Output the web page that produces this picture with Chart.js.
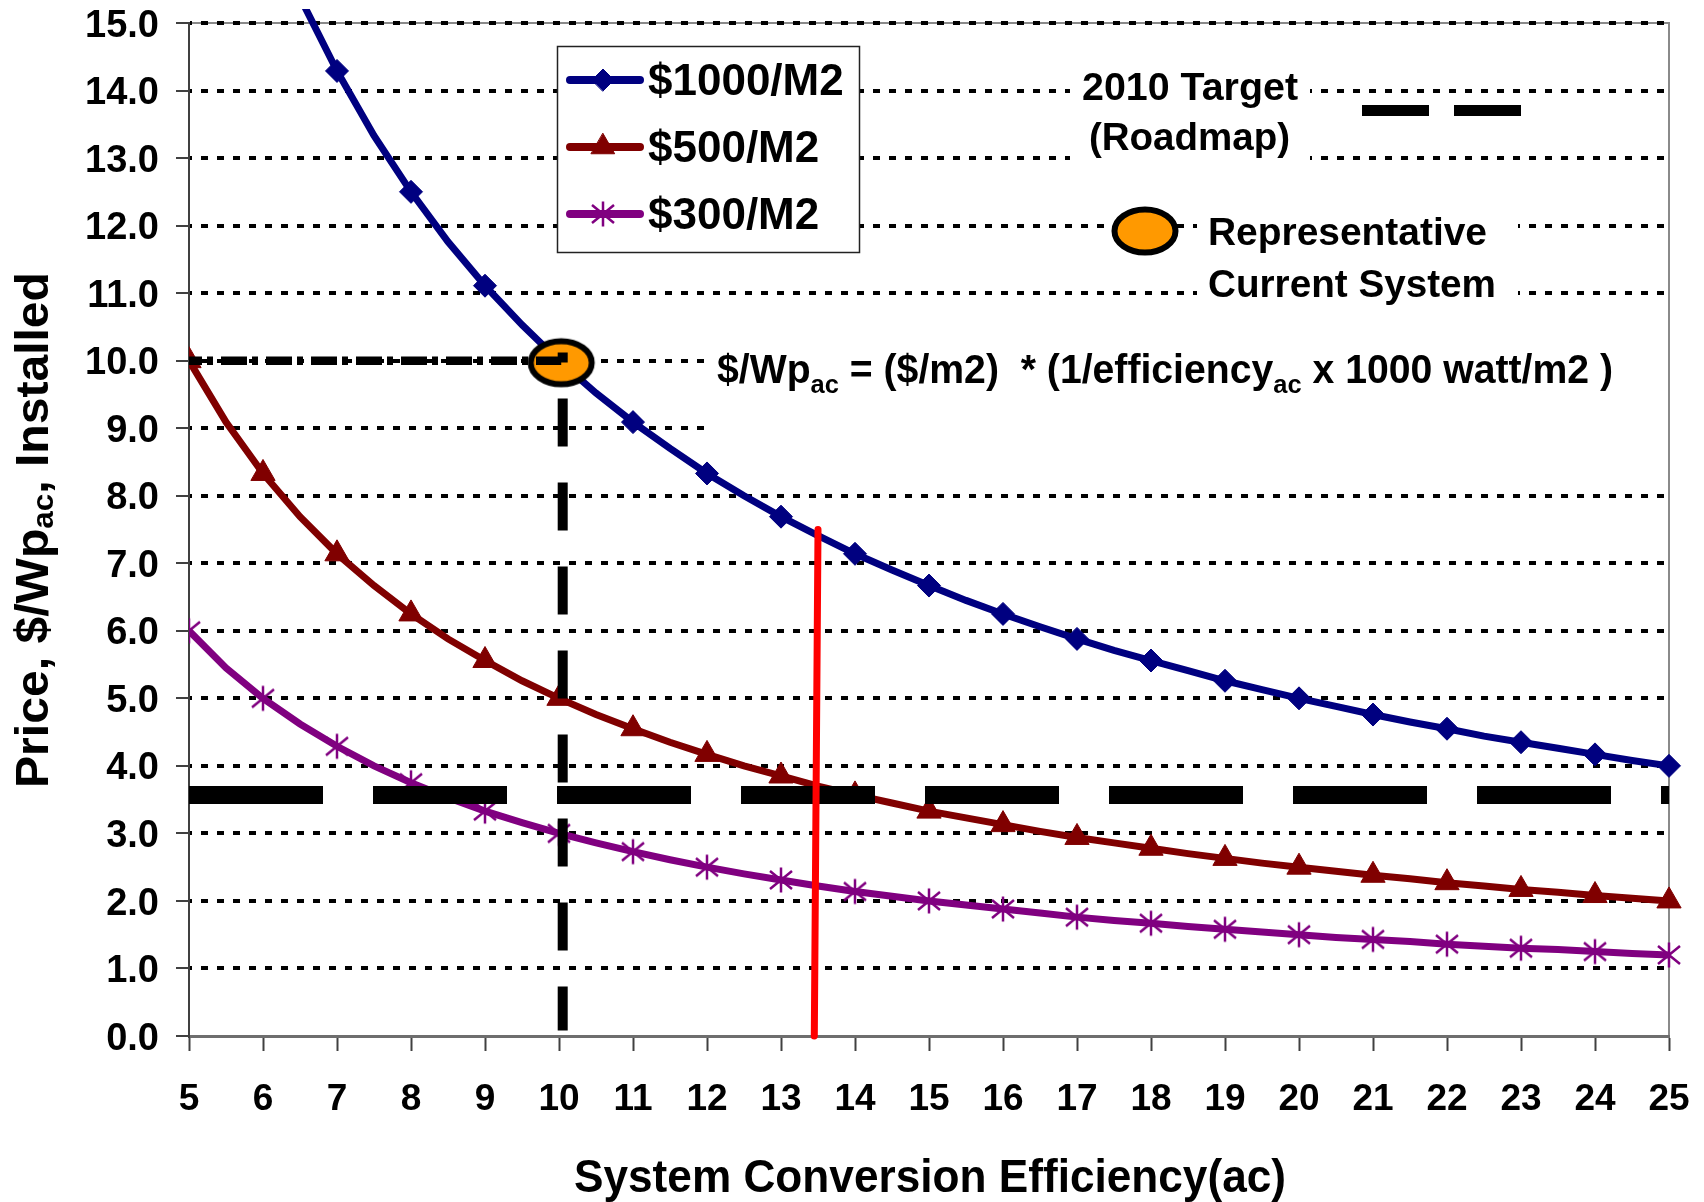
<!DOCTYPE html>
<html><head><meta charset="utf-8">
<script src="https://cdn.jsdelivr.net/npm/chart.js@4.4.1/dist/chart.umd.min.js"></script>
<style>html,body{margin:0;padding:0;background:#fff;}#wrap{width:1704px;height:1202px;}</style>
</head><body><div id="wrap"><canvas id="c" width="1704" height="1202"></canvas></div>
<script>
// ---------- data ----------
const efficiency = [5,5.5,6,6.5,7,7.5,8,8.5,9,9.5,10,10.5,11,11.5,12,12.5,13,13.5,14,14.5,15,15.5,16,16.5,17,17.5,18,18.5,19,19.5,20,20.5,21,21.5,22,22.5,23,23.5,24,24.5,25];
const price1000 = [20.00,18.18,16.67,15.38,14.29,13.33,12.50,11.76,11.11,10.53,10.00,9.52,9.09,8.70,8.33,8.00,7.69,7.41,7.14,6.90,6.67,6.45,6.25,6.06,5.88,5.71,5.56,5.41,5.26,5.13,5.00,4.88,4.76,4.65,4.55,4.44,4.35,4.26,4.17,4.08,4.00];
const price500 = [10.00,9.09,8.33,7.69,7.14,6.67,6.25,5.88,5.56,5.26,5.00,4.76,4.55,4.35,4.17,4.00,3.85,3.70,3.57,3.45,3.33,3.23,3.13,3.03,2.94,2.86,2.78,2.70,2.63,2.56,2.50,2.44,2.38,2.33,2.27,2.22,2.17,2.13,2.08,2.04,2.00];
const price300 = [6.00,5.45,5.00,4.62,4.29,4.00,3.75,3.53,3.33,3.16,3.00,2.86,2.73,2.61,2.50,2.40,2.31,2.22,2.14,2.07,2.00,1.94,1.88,1.82,1.76,1.71,1.67,1.62,1.58,1.54,1.50,1.46,1.43,1.40,1.36,1.33,1.30,1.28,1.25,1.22,1.20];
const seriesLabels = ['$1000/M2', '$500/M2', '$300/M2'];
const xTickLabels = ['5','6','7','8','9','10','11','12','13','14','15','16','17','18','19','20','21','22','23','24','25'];
const yTickLabels = ['0.0','1.0','2.0','3.0','4.0','5.0','6.0','7.0','8.0','9.0','10.0','11.0','12.0','13.0','14.0','15.0'];
const target2010 = [{x:5, y:3.57}, {x:25, y:3.57}];
const currentSystem = [{x:10.03, y:9.97}];
const guideHorizontal = [{x:5, y:10}, {x:10.03, y:10}];
const guideVertical = [{x:10.05, y:10.12}, {x:10.05, y:0.08}];
const redMarker = [{x:13.45, y:0}, {x:13.5, y:7.5}];

// ---------- styling ----------
const FONT = '"Liberation Sans", Arial, Helvetica, sans-serif';
const fnt = s => `bold ${s}px ${FONT}`;
const COLORS = ['#000080', '#800000', '#800080'];

function makeEllipse() {
  const c = document.createElement('canvas'); c.width = 70; c.height = 52;
  const g = c.getContext('2d');
  g.beginPath(); g.ellipse(35, 26, 30.5, 21.5, 0, 0, Math.PI * 2);
  g.fillStyle = '#FF9900'; g.fill(); g.lineWidth = 6; g.strokeStyle = '#000'; g.stroke();
  return c;
}
function makeStar() {
  const c = document.createElement('canvas'); c.width = 28; c.height = 28;
  const g = c.getContext('2d');
  g.strokeStyle = '#800080'; g.lineWidth = 2.5; g.lineCap = 'butt';
  g.beginPath();
  g.moveTo(14, 1.5); g.lineTo(14, 26.5);
  g.moveTo(3, 5); g.lineTo(25, 23);
  g.moveTo(3, 23); g.lineTo(25, 5);
  g.stroke();
  return c;
}
const ellipseImg = makeEllipse();
const starImg = makeStar();

function drawRich(ctx, parts, x, y, opt) {
  opt = opt || {};
  ctx.save();
  let total = 0;
  parts.forEach(p => { ctx.font = fnt(p.size); p.w = ctx.measureText(p.text).width; total += p.w; });
  const sx = opt.width ? opt.width / total : 1;
  ctx.translate(x, y);
  if (opt.rotate) ctx.rotate(opt.rotate);
  const W = total * sx;
  const start = opt.align === 'center' ? -W / 2 : (opt.align === 'right' ? -W : 0);
  ctx.translate(start, 0);
  ctx.scale(sx, 1);
  ctx.fillStyle = '#000'; ctx.textAlign = 'left'; ctx.textBaseline = 'alphabetic';
  let cx = 0;
  parts.forEach(p => { ctx.font = fnt(p.size); ctx.fillText(p.text, cx, p.dy || 0); cx += p.w; });
  ctx.restore();
}

const integerRadius = r => c => Number.isInteger(efficiency[c.dataIndex]) ? r : 0;
const toPts = arr => efficiency.map((e, i) => ({x: e, y: arr[i]}));
const CLIP = {left: 0, top: 14, right: 20, bottom: 20};

const decor = {
  id: 'decor',
  beforeDraw(chart) {
    const {ctx, chartArea: a} = chart;
    ctx.save();
    ctx.fillStyle = '#fff'; ctx.fillRect(0, 0, chart.width, chart.height);
    ctx.strokeStyle = '#8a8a8a'; ctx.lineWidth = 2;
    ctx.beginPath(); ctx.moveTo(a.left, a.top); ctx.lineTo(a.right, a.top); ctx.lineTo(a.right, a.bottom); ctx.stroke();
    ctx.restore();
  },
  beforeDatasetsDraw(chart) {
    const {ctx} = chart;
    ctx.save();
    ctx.fillStyle = '#fff';
    ctx.fillRect(1070, 60, 240, 108);   // 2010 target label
    ctx.fillRect(1197, 205, 321, 105);  // representative label
    ctx.fillRect(708, 332, 958, 116);   // formula
    // series legend box
    ctx.fillRect(557, 46, 303, 207);
    ctx.strokeStyle = '#222'; ctx.lineWidth = 1.5;
    ctx.strokeRect(557.5, 46.5, 302, 206);
    ctx.restore();
  },
  afterDatasetsDraw(chart) {
    const {ctx} = chart;
    const xs = chart.scales.x, ys = chart.scales.y;
    ctx.save();
    // legend entries
    const rows = [80, 147, 214];
    const styles = ['rectRot', 'triangle', starImg];
    const radii = [11, 13.5, 12];
    chart.data.datasets.slice(0, 3).forEach((ds, i) => {
      const y = rows[i];
      ctx.strokeStyle = COLORS[i]; ctx.lineWidth = 8; ctx.lineCap = 'round';
      ctx.beginPath(); ctx.moveTo(570, y); ctx.lineTo(640, y); ctx.stroke();
      ctx.fillStyle = COLORS[i]; ctx.strokeStyle = COLORS[i]; ctx.lineWidth = 1;
      Chart.helpers.drawPoint(ctx, {pointStyle: styles[i], radius: radii[i], rotation: 0, borderWidth: 1}, 603, y);
      drawRich(ctx, [{text: ds.label, size: 44}], 648, y + 15, {});
    });
    // 2010 target legend
    drawRich(ctx, [{text: '2010 Target', size: 39}], 1082, 100, {width: 216});
    drawRich(ctx, [{text: '(Roadmap)', size: 39}], 1089, 150, {width: 201});
    ctx.fillStyle = '#000';
    ctx.fillRect(1362, 105, 67, 11);
    ctx.fillRect(1454, 105, 67, 11);
    // representative legend
    ctx.drawImage(ellipseImg, 1145 - 35, 231 - 26);
    drawRich(ctx, [{text: 'Representative', size: 39}], 1208, 245, {width: 279});
    drawRich(ctx, [{text: 'Current System', size: 39}], 1208, 297, {width: 288});
    // formula
    drawRich(ctx, [
      {text: '$/Wp', size: 40}, {text: 'ac', size: 26, dy: 10},
      {text: ' = ($/m2)  * (1/efficiency', size: 40}, {text: 'ac', size: 26, dy: 10},
      {text: ' x 1000 watt/m2 )', size: 40}
    ], 717, 383, {width: 896});
    // tick labels
    yTickLabels.forEach(t => {
      const py = ys.getPixelForValue(parseFloat(t));
      drawRich(ctx, [{text: t, size: 38}], 159, py + 13.6, {align: 'right'});
    });
    xTickLabels.forEach(t => {
      const px = xs.getPixelForValue(parseFloat(t));
      drawRich(ctx, [{text: t, size: 37}], px, 1110, {align: 'center'});
    });
    // axis titles
    drawRich(ctx, [{text: 'System Conversion Efficiency(ac)', size: 46}], 930, 1192, {align: 'center', width: 712});
    drawRich(ctx, [{text: 'Price, $/Wp', size: 46}, {text: 'ac', size: 30, dy: 5}, {text: ', Installed', size: 46}],
      48, 530, {align: 'center', width: 516, rotate: -Math.PI / 2});
    ctx.restore();
  }
};

new Chart(document.getElementById('c'), {
  type: 'line',
  data: {
    datasets: [
      {label: seriesLabels[0], data: toPts(price1000), borderColor: COLORS[0], backgroundColor: COLORS[0], borderWidth: 7,
       pointStyle: 'rectRot', pointRadius: integerRadius(11.5), pointBackgroundColor: COLORS[0], pointBorderColor: COLORS[0], pointBorderWidth: 1,
       tension: 0, clip: CLIP, order: 6},
      {label: seriesLabels[1], data: toPts(price500), borderColor: COLORS[1], backgroundColor: COLORS[1], borderWidth: 7,
       pointStyle: 'triangle', pointRadius: integerRadius(14), pointBackgroundColor: COLORS[1], pointBorderColor: COLORS[1], pointBorderWidth: 1,
       tension: 0, clip: CLIP, order: 5},
      {label: seriesLabels[2], data: toPts(price300), borderColor: COLORS[2], backgroundColor: COLORS[2], borderWidth: 7,
       pointStyle: starImg, pointRadius: integerRadius(12),
       tension: 0, clip: CLIP, order: 4},
      {label: 'Representative Current System', data: currentSystem, showLine: false, pointStyle: ellipseImg, pointRadius: 30, order: 3, clip: false},
      {label: 'guide-v', data: guideVertical, borderColor: '#000', borderWidth: 10, borderDash: [48, 36], borderDashOffset: 38,
       borderCapStyle: 'butt', pointRadius: 0, order: 2, clip: false},
      {label: 'guide-h', data: guideHorizontal, borderColor: '#000', borderWidth: 8.5, borderDash: [26, 5, 6, 8], borderDashOffset: 13,
       borderCapStyle: 'butt', pointRadius: 0, order: 2, clip: false},
      {label: '2010 Target', data: target2010, borderColor: '#000', borderWidth: 18, borderDash: [134, 50],
       borderCapStyle: 'butt', pointRadius: 0, order: 1, clip: false},
      {label: 'red', data: redMarker, borderColor: '#FF0000', borderWidth: 7, borderCapStyle: 'round',
       pointRadius: 0, order: 0, clip: false}
    ]
  },
  options: {
    responsive: false, animation: false, events: [],
    layout: {autoPadding: false, padding: {left: 0, right: 35, top: 23, bottom: 0}},
    plugins: {legend: {display: false}, tooltip: {enabled: false}},
    scales: {
      x: {type: 'linear', min: 5, max: 25,
          ticks: {stepSize: 1, display: false},
          grid: {drawOnChartArea: false, drawTicks: true, tickLength: 15, tickColor: '#404040', tickWidth: 2},
          border: {display: true, color: '#6e6e6e', width: 3},
          afterFit: s => { s.height = 166; }},
      y: {type: 'linear', min: 0, max: 15,
          ticks: {stepSize: 1, display: false},
          grid: {color: c => (c.tick && c.tick.value === 0) ? 'rgba(0,0,0,0)' : '#000', lineWidth: 4,
                 drawTicks: true, tickLength: 13, tickColor: '#404040', tickWidth: 2, tickBorderDash: []},
          border: {display: true, color: '#404040', width: 2, dash: [7, 9], dashOffset: 5},
          afterFit: s => { s.width = 189; }}
    }
  },
  plugins: [decor]
});
</script>
</body></html>
